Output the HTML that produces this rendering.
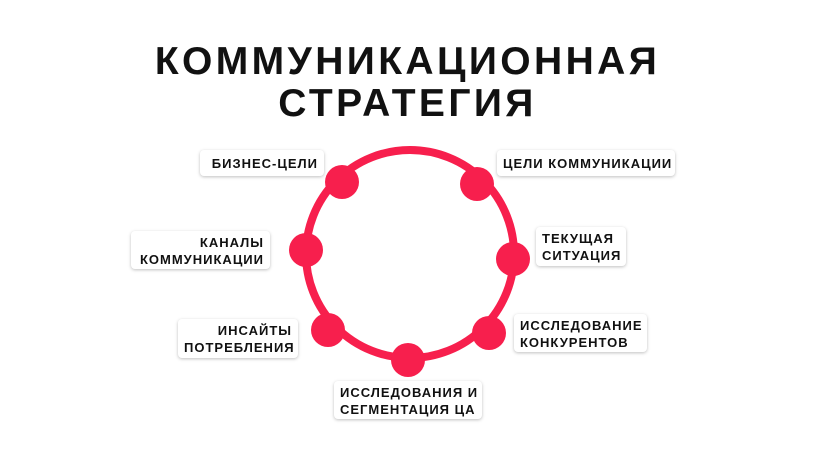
<!DOCTYPE html><html><head><meta charset="utf-8"><style>
body{margin:0;width:815px;height:458px;background:#fff;position:relative;overflow:hidden;font-family:"Liberation Sans",sans-serif;}
.t{position:absolute;left:0;width:815px;text-align:center;font-weight:bold;font-size:39px;letter-spacing:3.4px;color:#111;line-height:42px}
.b{position:absolute;background:#fff;border-radius:4px;box-shadow:0 1px 3px rgba(0,0,0,.25);font-weight:bold;font-size:13px;letter-spacing:1px;color:#111;line-height:17px;padding:3px 6px;box-sizing:border-box;text-align:right;white-space:nowrap}
.l{text-align:left}
svg{position:absolute;left:0;top:0}
</style></head><body>
<div class="t" style="top:41px">КОММУНИКАЦИОННАЯ</div>
<div class="t" style="top:83px">СТРАТЕГИЯ</div>
<div class="b" style="left:200px;top:150px;width:124px;height:26px;padding-top:5px">БИЗНЕС-ЦЕЛИ</div>
<div class="b l" style="left:497px;top:150px;width:178px;height:26px;padding-top:5px">ЦЕЛИ КОММУНИКАЦИИ</div>
<div class="b l" style="left:536px;top:227px;width:90px;height:39px">ТЕКУЩАЯ<br>СИТУАЦИЯ</div>
<div class="b" style="left:131px;top:231px;width:139px;height:38px">КАНАЛЫ<br>КОММУНИКАЦИИ</div>
<div class="b" style="left:178px;top:319px;width:120px;height:39px">ИНСАЙТЫ<br>ПОТРЕБЛЕНИЯ</div>
<div class="b l" style="left:514px;top:314px;width:133px;height:38px">ИССЛЕДОВАНИЕ<br>КОНКУРЕНТОВ</div>
<div class="b l" style="left:334px;top:381px;width:148px;height:38px">ИССЛЕДОВАНИЯ И<br>СЕГМЕНТАЦИЯ ЦА</div>
<svg width="815" height="458">
<circle cx="410" cy="254" r="104" fill="none" stroke="#f71f4d" stroke-width="8"/>
<g fill="#f71f4d">
<circle cx="342" cy="182" r="17"/>
<circle cx="477" cy="184" r="17"/>
<circle cx="306" cy="250" r="17"/>
<circle cx="513" cy="259" r="17"/>
<circle cx="328" cy="330" r="17"/>
<circle cx="489" cy="333" r="17"/>
<circle cx="408" cy="360" r="17"/>
</g>
</svg>
</body></html>
